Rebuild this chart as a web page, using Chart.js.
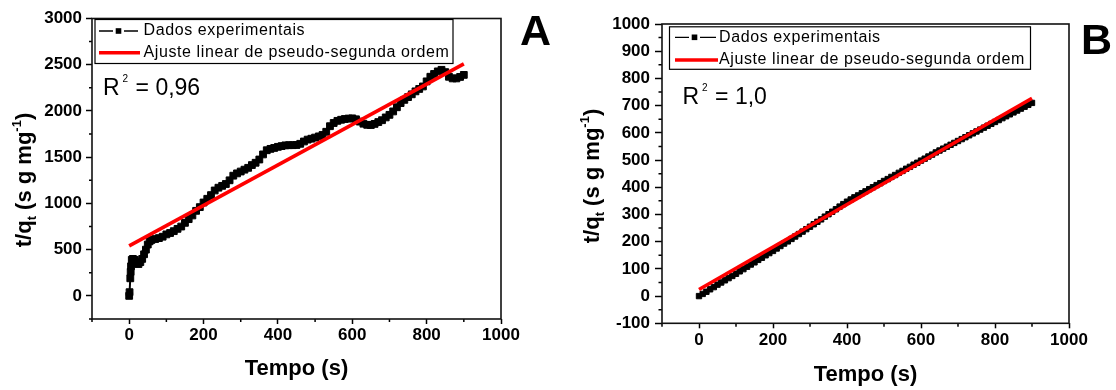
<!DOCTYPE html>
<html><head><meta charset="utf-8">
<script src="https://cdn.jsdelivr.net/npm/chart.js@4.4.1/dist/chart.umd.min.js"></script>
<style>
html,body{margin:0;padding:0;background:#fff;}
#wrap{position:relative;width:1116px;height:390px;overflow:hidden;background:#fff;}
canvas{position:absolute;top:0;}
</style></head><body>
<div id="wrap">
<canvas id="cA" width="556" height="390" style="left:0;width:556px;height:390px"></canvas>
<canvas id="cB" width="560" height="390" style="left:556px;width:560px;height:390px"></canvas>
</div>
<script>
const FONT = "'Liberation Sans', Arial, Helvetica, sans-serif";

const seriesLabels = ['Dados experimentais', 'Ajuste linear de pseudo-segunda ordem'];
const xTitle = 'Tempo (s)';
const r2A = '0,96';
const r2B = '1,0';

const xTicks = [0, 200, 400, 600, 800, 1000];
const xMinorTicks = [-100, 100, 300, 500, 700, 900];
const yTicksA = [0, 500, 1000, 1500, 2000, 2500, 3000];
const yMinorTicksA = [-250, 250, 750, 1250, 1750, 2250, 2750];
const yTicksB = [-100, 0, 100, 200, 300, 400, 500, 600, 700, 800, 900, 1000];
const yMinorTicksB = [-50, 50, 150, 250, 350, 450, 550, 650, 750, 850, 950];

const timeA = [0,1,3,4,5,7,10,15,20,25,30,35,40,45,50,55,60,70,80,90,
  100,110,120,130,140,150,160,170,180,190,200,210,220,230,240,250,260,270,280,290,
  300,310,320,330,340,350,360,370,380,390,400,410,420,430,440,450,460,470,480,490,
  500,510,520,530,540,550,560,570,580,590,600,610,620,630,640,650,660,670,680,690,
  700,710,720,730,740,750,760,770,780,790,800,810,820,830,840,850,860,870,880,890,900];
const qA = [0,40,190,260,320,390,400,390,350,345,365,400,450,500,555,590,605,615,625,640,
  665,680,700,725,750,790,830,870,920,960,1010,1050,1090,1140,1170,1190,1210,1250,1300,1325,
  1345,1365,1385,1415,1440,1475,1530,1575,1590,1600,1612,1620,1628,1630,1630,1632,1645,1670,1690,1700,
  1712,1725,1740,1775,1835,1870,1893,1905,1913,1918,1920,1910,1885,1862,1850,1848,1860,1880,1900,1930,
  1958,1995,2040,2085,2120,2150,2180,2212,2238,2265,2320,2370,2400,2428,2445,2420,2370,2352,2352,2368,2390];

const timeB = [0,10,20,30,40,50,60,70,80,90,100,110,120,130,140,150,160,170,180,190,
  200,210,220,230,240,250,260,270,280,290,300,310,320,330,340,350,360,370,380,390,
  400,410,420,430,440,450,460,470,480,490,500,510,520,530,540,550,560,570,580,590,
  600,610,620,630,640,650,660,670,680,690,700,710,720,730,740,750,760,770,780,790,
  800,810,820,830,840,850,860,870,880,890,900];
const qB = [0,8,16,25,33,42,50,58,66,74,82,91,99,108,116,124,133,141,150,158,
  166,175,184,193,201,210,219,228,237,246,255,264,273,282,292,301,310,319,329,338,
  347,355,363,370,378,385,393,400,408,415,423,430,438,445,453,460,468,475,483,490,
  498,505,513,520,528,535,542,549,556,563,570,577,584,591,598,605,612,619,626,633,
  640,647,654,661,668,675,682,689,696,703,710];

const fitTime = [0, 900];
const fitA = [540, 2510];
const fitB = [24, 727];

function pts(xs, ys) { return xs.map((x, i) => ({x: x, y: ys[i]})); }

function drawYTitle(ctx, cx, cy) {
  const parts = [
    {t: 't/q', s: 22, dy: 0},
    {t: 't', s: 13, dy: 5},
    {t: ' (s g mg', s: 22, dy: 0},
    {t: '-1', s: 13, dy: -10},
    {t: ')', s: 22, dy: 0}
  ];
  ctx.save();
  ctx.translate(cx, cy);
  ctx.rotate(-Math.PI / 2);
  let total = 0;
  parts.forEach(p => { ctx.font = 'bold ' + p.s + 'px ' + FONT; p.w = ctx.measureText(p.t).width; total += p.w; });
  let x = -total / 2;
  ctx.fillStyle = '#000';
  ctx.textBaseline = 'alphabetic';
  ctx.textAlign = 'left';
  parts.forEach(p => { ctx.font = 'bold ' + p.s + 'px ' + FONT; ctx.fillText(p.t, x, p.dy); x += p.w; });
  ctx.restore();
}

function drawR2(ctx, x, y, val) {
  ctx.save();
  ctx.fillStyle = '#000';
  ctx.textBaseline = 'alphabetic';
  ctx.textAlign = 'left';
  ctx.font = '23px ' + FONT;
  ctx.fillText('R', x, y);
  const w = ctx.measureText('R').width;
  ctx.font = '10px ' + FONT;
  ctx.fillText('2', x + w + 3, y - 13);
  const w2 = ctx.measureText('2').width;
  ctx.font = '23px ' + FONT;
  ctx.fillText(' = ' + val, x + w + 4 + w2, y);
  ctx.restore();
}

function drawLegend(ctx, L) {
  ctx.save();
  ctx.fillStyle = '#fff';
  ctx.fillRect(L.x0, L.y0, L.x1 - L.x0, L.y1 - L.y0);
  ctx.strokeStyle = '#000';
  ctx.lineWidth = 1.2;
  ctx.strokeRect(L.x0, L.y0, L.x1 - L.x0, L.y1 - L.y0);
  ctx.lineWidth = 1.3;
  ctx.beginPath();
  ctx.moveTo(L.s0, L.r1); ctx.lineTo(L.sq - 5.5, L.r1);
  ctx.moveTo(L.sq + 5.5, L.r1); ctx.lineTo(L.s1, L.r1);
  ctx.stroke();
  ctx.fillStyle = '#000';
  ctx.fillRect(L.sq - 2.8, L.r1 - 2.8, 5.6, 5.6);
  ctx.strokeStyle = '#ff0000';
  ctx.lineWidth = 3.5;
  ctx.beginPath();
  ctx.moveTo(L.s0, L.r2); ctx.lineTo(L.s1 + 2, L.r2);
  ctx.stroke();
  ctx.fillStyle = '#000';
  ctx.textBaseline = 'middle';
  ctx.textAlign = 'left';
  if ('letterSpacing' in ctx) { ctx.letterSpacing = '0.6px'; ctx.font = '16px ' + FONT; }
  else { ctx.font = '17px ' + FONT; }
  ctx.fillText(seriesLabels[0], L.tx, L.r1);
  ctx.fillText(seriesLabels[1], L.tx, L.r2);
  ctx.restore();
}

function decor(cfg) {
  return {
    id: 'decor',
    afterDraw(chart) {
      const ctx = chart.ctx;
      const a = chart.chartArea;
      const xs = chart.scales.x, ys = chart.scales.y;
      ctx.save();
      ctx.strokeStyle = '#000';
      ctx.lineWidth = 1.5;
      ctx.beginPath();
      cfg.minorX.forEach(v => { const px = xs.getPixelForValue(v); ctx.moveTo(px, a.bottom); ctx.lineTo(px, a.bottom + cfg.minorLen); });
      cfg.minorY.forEach(v => { const py = ys.getPixelForValue(v); ctx.moveTo(a.left, py); ctx.lineTo(a.left - cfg.minorLen, py); });
      ctx.stroke();
      ctx.lineWidth = 1.6;
      ctx.strokeStyle = '#111';
      ctx.strokeRect(a.left, a.top, a.right - a.left, a.bottom - a.top);
      ctx.restore();
      drawLegend(ctx, cfg.legend);
      drawR2(ctx, cfg.r2x, cfg.r2y, cfg.r2);
      drawYTitle(ctx, cfg.ytx, cfg.yty);
      ctx.save();
      ctx.fillStyle = '#000';
      ctx.font = 'bold 43px ' + FONT;
      ctx.textBaseline = 'alphabetic';
      ctx.textAlign = 'left';
      ctx.fillText(cfg.letter, cfg.lx, cfg.ly);
      ctx.restore();
    }
  };
}

function makeChart(id, o) {
  return new Chart(document.getElementById(id), {
    type: 'scatter',
    data: {
      datasets: [
        {
          label: seriesLabels[0],
          data: pts(o.tx, o.ty),
          showLine: true,
          borderColor: '#000',
          borderWidth: 2,
          backgroundColor: '#000',
          pointStyle: 'rect',
          pointRadius: o.pr,
          pointBorderWidth: 1,
          pointBorderColor: '#000',
          pointBackgroundColor: '#000',
          order: 2
        },
        {
          label: seriesLabels[1],
          data: pts(fitTime, o.fit),
          showLine: true,
          borderColor: '#ff0000',
          borderWidth: 3.6,
          pointRadius: 0,
          order: 1
        }
      ]
    },
    options: {
      responsive: false,
      animation: false,
      devicePixelRatio: 1,
      layout: { padding: { left: 0, top: o.padTop, right: o.padRight, bottom: 0 } },
      plugins: { legend: { display: false }, tooltip: { enabled: false } },
      scales: {
        x: {
          type: 'linear', min: -100, max: 1000,
          afterBuildTicks: s => { s.ticks = xTicks.map(v => ({value: v})); },
          afterFit: s => { s.height = o.xH; },
          grid: { display: true, drawOnChartArea: false, drawTicks: true, tickLength: 5, tickWidth: 1.5, tickColor: '#000' },
          border: { display: false },
          ticks: { color: '#000', padding: o.xPad, maxRotation: 0, autoSkip: false,
            font: { family: FONT, size: 17, weight: 'bold' }, callback: v => String(v) },
          title: { display: true, text: xTitle, color: '#000',
            font: { family: FONT, size: 22, weight: 'bold', lineHeight: 1.2 },
            padding: { top: 0, bottom: o.xtPad } }
        },
        y: {
          type: 'linear', min: o.ymin, max: o.ymax,
          afterBuildTicks: s => { s.ticks = o.yTicks.map(v => ({value: v})); },
          afterFit: s => { s.width = o.yW; },
          grid: { display: true, drawOnChartArea: false, drawTicks: true, tickLength: o.yTL, tickWidth: 1.5, tickColor: '#000' },
          border: { display: false },
          ticks: { color: '#000', padding: o.yPad, autoSkip: false,
            font: { family: FONT, size: 17, weight: 'bold' }, callback: v => String(v) },
          title: { display: false }
        }
      }
    },
    plugins: [decor(o.decor)]
  });
}

makeChart('cA', {
  tx: timeA, ty: qA, fit: fitA, pr: 4.8,
  padTop: 18.5, padRight: 55, xH: 71, yW: 92,
  xPad: 1, xtPad: 8, yTL: 6, yPad: 4,
  ymin: -250, ymax: 3000, yTicks: yTicksA,
  decor: {
    minorX: xMinorTicks, minorY: yMinorTicksA, minorLen: 3,
    legend: { x0: 95, y0: 19.5, x1: 453, y1: 63.5, s0: 99, s1: 138, sq: 118.5, r1: 31, r2: 52.7, tx: 143.5 },
    r2: r2A, r2x: 103, r2y: 94.5,
    ytx: 30.5, yty: 180,
    letter: 'A', lx: 520, ly: 45
  }
});

makeChart('cB', {
  tx: timeB, ty: qB, fit: fitB, pr: 3.8,
  padTop: 24, padRight: 47, xH: 66.7, yW: 106,
  xPad: 1.5, xtPad: 2, yTL: 7, yPad: 5,
  ymin: -100, ymax: 1000, yTicks: yTicksB,
  decor: {
    minorX: xMinorTicks, minorY: yMinorTicksB, minorLen: 3.5,
    legend: { x0: 113.5, y0: 26.8, x1: 474.5, y1: 69.3, s0: 119, s1: 160, sq: 138.5, r1: 37.3, r2: 60, tx: 163 },
    r2: r2B, r2x: 126.5, r2y: 104.3,
    ytx: 43, yty: 176,
    letter: 'B', lx: 525, ly: 54
  }
});
</script>
</body></html>
